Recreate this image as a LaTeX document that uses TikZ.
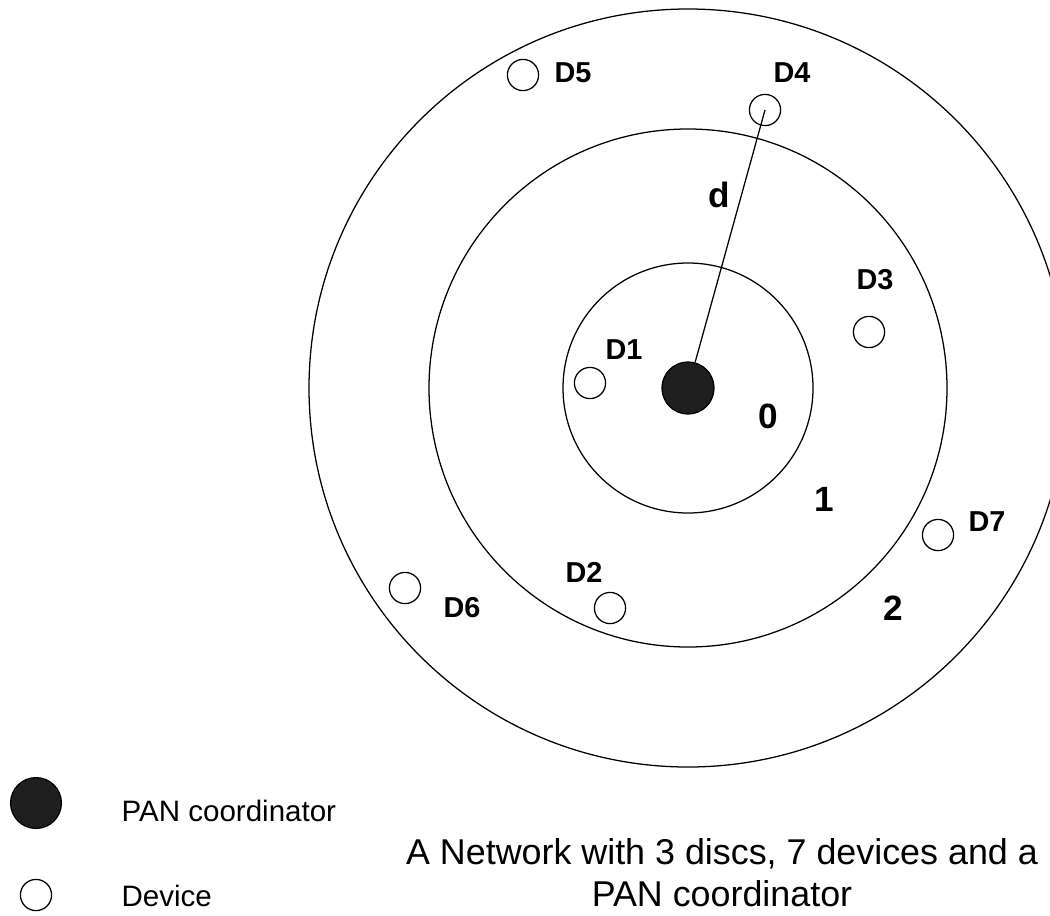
\documentclass[tikz,border=0pt]{standalone}
\usepackage{fontspec}
\setmainfont{Liberation Sans}
\usepackage{tikz}

\tikzset{
  device/.style={circle,draw,line width=0.9pt,minimum size=0.78cm,inner sep=0pt},
  pancoord/.style={circle,fill=black!88,draw=black,minimum size=1.3cm,inner sep=0pt},
  devlabel/.style={inner sep=0pt,font=\bfseries\fontsize{20.5}{24}\selectfont},
  ringnum/.style={inner sep=0pt,font=\bfseries\fontsize{25}{29}\selectfont},
  legendtext/.style={inner sep=0pt,anchor=west,font=\fontsize{21}{25}\selectfont}
}

\begin{document}
\begin{tikzpicture}[x=0.025cm,y=-0.025cm,line width=0.9pt]
\useasboundingbox (0,0) rectangle (1050,915);

\node[pancoord] (pan) at (688,388) {};
\draw (pan.center) circle[radius=125];
\draw (pan.center) circle[radius=259];
\draw (pan.center) circle[radius=379];

\node[device] (d1) at (590,383) {};
\node[devlabel] (l1) at (624,350) {D1};
\node[device] (d2) at (610,608) {};
\node[devlabel] (l2) at (584,572) {D2};
\node[device] (d3) at (869,332) {};
\node[devlabel] (l3) at (875,280) {D3};
\node[device] (d4) at (765,110) {};
\node[devlabel] (l4) at (792,73) {D4};
\node[device] (d5) at (523,75) {};
\node[devlabel] (l5) at (573,73) {D5};
\node[device] (d6) at (405,588) {};
\node[devlabel] (l6) at (462,608) {D6};
\node[device] (d7) at (938,535) {};
\node[devlabel] (l7) at (987,522) {D7};

\draw (d4.center) -- (pan);
\node[ringnum] (dist) at (719,195) {d};

\node[ringnum] (r0) at (768,416) {0};
\node[ringnum] (r1) at (824,499) {1};
\node[ringnum] (r2) at (893,608) {2};

\node[pancoord,minimum size=1.27cm] (keypan) at (36,803) {};
\node[legendtext] (keypantext) at (121,811) {PAN coordinator};
\node[device] (keydev) at (36,895) {};
\node[legendtext] (keydevtext) at (121,896) {Device};

\node[align=center,inner sep=0pt,font=\fontsize{25.5}{30}\selectfont] (caption) at (722,873)
  {A Network with 3 discs, 7 devices and a\\PAN coordinator};
\end{tikzpicture}
\end{document}
